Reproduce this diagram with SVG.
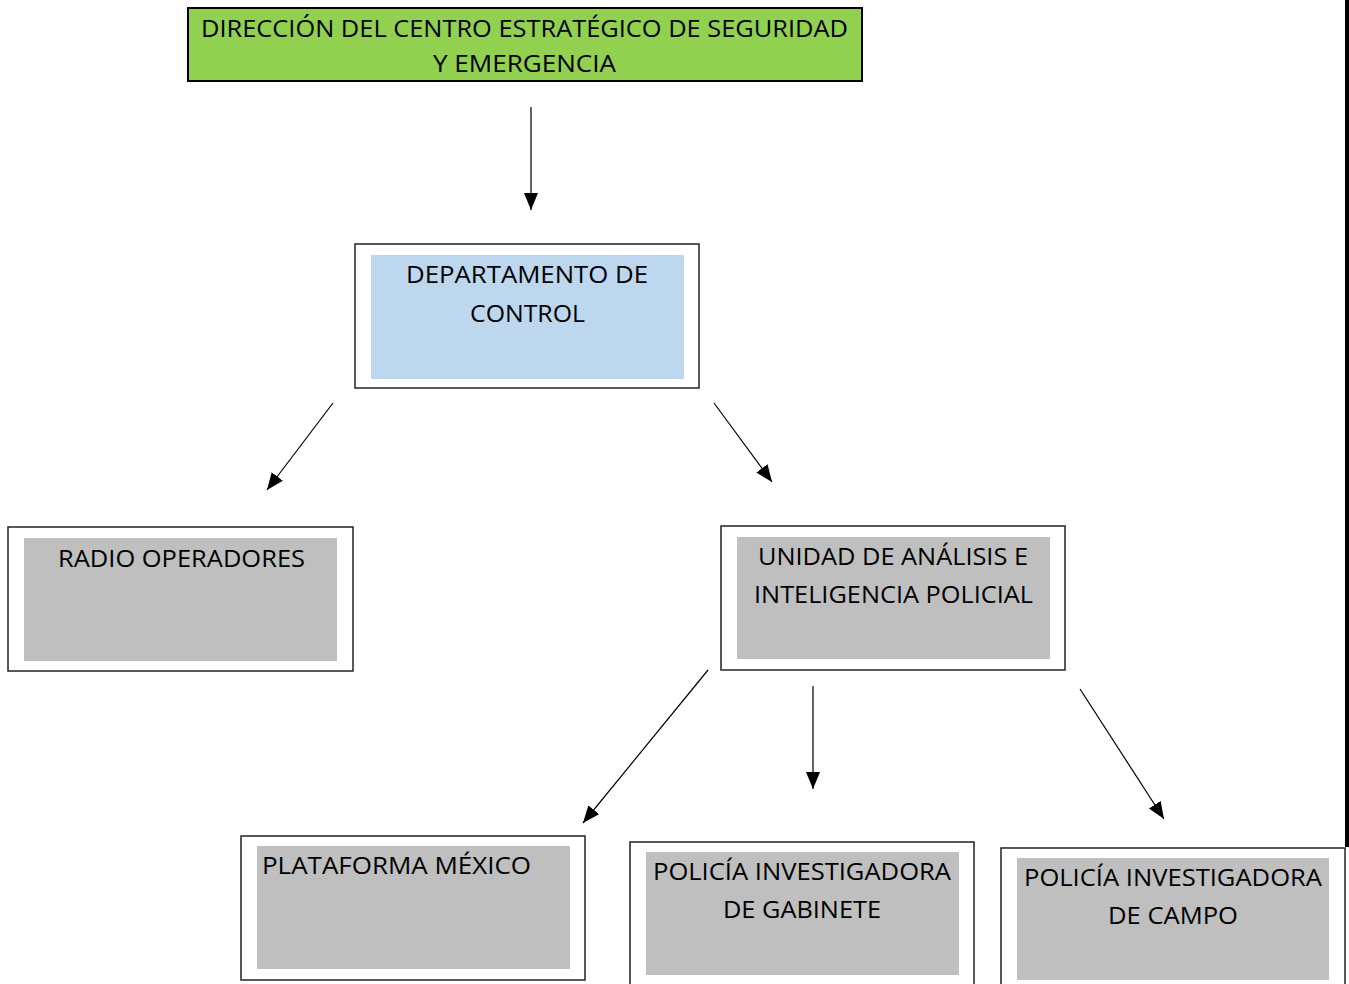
<svg xmlns="http://www.w3.org/2000/svg" width="1349" height="984" viewBox="0 0 1349 984">
<style>
  .outer { fill: #ffffff; stroke: #222222; stroke-width: 1.5; }
  .gray { fill: #bfbfbf; }
  .blue { fill: #bdd7ee; }
  .t { font-family: "Open Sans", "Liberation Sans", sans-serif; font-size: 24px; fill: #000000; }
  .c { text-anchor: middle; }
  .conn { stroke: #000000; stroke-width: 1.2; fill: none; marker-end: url(#arr); }
</style>
<defs>
  <marker id="arr" markerUnits="userSpaceOnUse" markerWidth="18" markerHeight="14" refX="17" refY="7" orient="auto">
    <path d="M0,0 L17,7 L0,14 z" fill="#000000"/>
  </marker>
</defs>
<rect x="0" y="0" width="1349" height="984" fill="#ffffff"/>
<rect x="1345" y="0" width="4" height="847" fill="#000000"/>

<g id="direccion">
  <rect x="188" y="8" width="674" height="73" fill="#92d050" stroke="#000000" stroke-width="2"/>
  <text class="t" x="201" y="37" textLength="647" lengthAdjust="spacingAndGlyphs">DIRECCIÓN DEL CENTRO ESTRATÉGICO DE SEGURIDAD</text>
  <text class="t" x="433" y="72" textLength="183" lengthAdjust="spacingAndGlyphs">Y EMERGENCIA</text>
</g>

<g id="departamento">
  <rect class="outer" x="355" y="244" width="344" height="144"/>
  <rect class="blue" x="371" y="255" width="313" height="124"/>
  <text class="t" x="406" y="283" textLength="242" lengthAdjust="spacingAndGlyphs">DEPARTAMENTO DE</text>
  <text class="t" x="470" y="322" textLength="115" lengthAdjust="spacingAndGlyphs">CONTROL</text>
</g>

<g id="radio">
  <rect class="outer" x="8" y="527" width="345" height="144"/>
  <rect class="gray" x="24" y="538" width="313" height="123"/>
  <text class="t" x="58" y="567" textLength="247" lengthAdjust="spacingAndGlyphs">RADIO OPERADORES</text>
</g>

<g id="unidad">
  <rect class="outer" x="721" y="526" width="344" height="144"/>
  <rect class="gray" x="737" y="537" width="313" height="122"/>
  <text class="t" x="758" y="565" textLength="270" lengthAdjust="spacingAndGlyphs">UNIDAD DE ANÁLISIS E</text>
  <text class="t" x="754" y="603" textLength="279" lengthAdjust="spacingAndGlyphs">INTELIGENCIA POLICIAL</text>
</g>

<g id="plataforma">
  <rect class="outer" x="241" y="836" width="344" height="144"/>
  <rect class="gray" x="257" y="846" width="313" height="123"/>
  <text class="t" x="262" y="874" textLength="269" lengthAdjust="spacingAndGlyphs">PLATAFORMA MÉXICO</text>
</g>

<g id="gabinete">
  <rect class="outer" x="630" y="842" width="344" height="150"/>
  <rect class="gray" x="646" y="852" width="313" height="123"/>
  <text class="t" x="653" y="880" textLength="298" lengthAdjust="spacingAndGlyphs">POLICÍA INVESTIGADORA</text>
  <text class="t" x="723" y="918" textLength="158" lengthAdjust="spacingAndGlyphs">DE GABINETE</text>
</g>

<g id="campo">
  <rect class="outer" x="1001" y="848" width="344" height="150"/>
  <rect class="gray" x="1017" y="858" width="312" height="122"/>
  <text class="t" x="1024" y="886" textLength="298" lengthAdjust="spacingAndGlyphs">POLICÍA INVESTIGADORA</text>
  <text class="t" x="1108" y="924" textLength="130" lengthAdjust="spacingAndGlyphs">DE CAMPO</text>
</g>

<g id="connectors">
  <line class="conn" x1="531" y1="107" x2="531" y2="210"/>
  <line class="conn" x1="333" y1="403" x2="267" y2="490"/>
  <line class="conn" x1="714" y1="403" x2="772" y2="482"/>
  <line class="conn" x1="708" y1="670" x2="583" y2="823"/>
  <line class="conn" x1="813" y1="686" x2="813" y2="789"/>
  <line class="conn" x1="1080" y1="689" x2="1164" y2="819"/>
</g>
</svg>
